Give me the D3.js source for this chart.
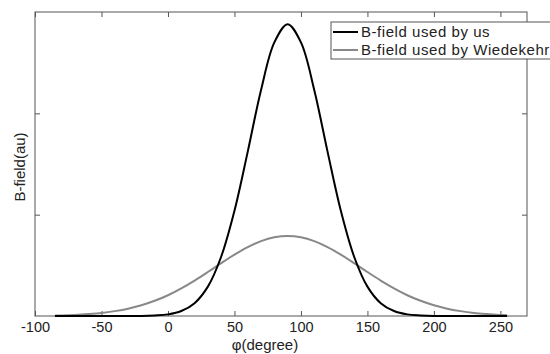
<!DOCTYPE html>
<meta charset="utf-8">
<head>
  <title>B-field</title>
</head>
<style>
body { margin: 0; background: #fff; }
svg { display: block; font-family: Arial, "Liberation Sans", sans-serif; }
.axis text { font-size: 14.5px; fill: #222; }
.axis line { stroke: #555; }
.axis path { display: none; }
</style>
<body>
<svg width="550" height="354"></svg>
<script src="https://cdnjs.cloudflare.com/ajax/libs/d3/7.8.5/d3.min.js"></script>
<script>
// angle samples (degrees)
var phi = [-85, -80, -70, -60, -50, -40, -30, -20, -10, 0, 10, 20, 30, 40, 50, 60, 70, 80, 90,
  100, 110, 120, 130, 140, 150, 160, 170, 180, 190, 200, 210, 220, 230, 240, 250, 255];

// B-field used by us (au)
var bUs = [0, 0, 0, 0, 0, 0, 0, 0, 0.005, 0.016, 0.049, 0.127, 0.29, 0.585, 1.038, 1.622, 2.231, 2.70, 2.88,
  2.70, 2.231, 1.622, 1.038, 0.585, 0.29, 0.127, 0.049, 0.016, 0.005, 0, 0, 0, 0, 0, 0, 0];

// B-field used by Wiedekehr (au)
var bWied = [0.005, 0.006, 0.011, 0.019, 0.030, 0.048, 0.072, 0.106, 0.150, 0.205, 0.273, 0.350, 0.434, 0.521, 0.605, 0.680, 0.739, 0.777, 0.79,
  0.777, 0.739, 0.680, 0.605, 0.521, 0.434, 0.350, 0.273, 0.205, 0.150, 0.106, 0.072, 0.048, 0.030, 0.019, 0.011, 0.008];

var xTicks = [-100, -50, 0, 50, 100, 150, 200, 250];
var yTicks = [1, 2];
var seriesNames = ["B-field used by us", "B-field used by Wiedekehr"];
var seriesColors = ["#000", "#888"];

// plot box (note: "top" is taken by window.top, so use other names)
var pLeft = 35, pRight = 527, pTop = 12, pBottom = 316;

var x = d3.scaleLinear().domain([-100, 270]).range([pLeft, pRight]);
var y = d3.scaleLinear().domain([0, 3]).range([pBottom, pTop]);

var svg = d3.select("svg");
var fmt = function(d) { return String(d); };

// ticks (inward, all four sides)
svg.append("g").attr("class", "axis").attr("transform", "translate(0," + pBottom + ")")
  .call(d3.axisBottom(x).tickValues(xTicks).tickSizeInner(-5).tickSizeOuter(0).tickPadding(6).tickFormat(fmt));
svg.append("g").attr("class", "axis").attr("transform", "translate(0," + pTop + ")")
  .call(d3.axisTop(x).tickValues(xTicks).tickSizeInner(-5).tickSizeOuter(0).tickFormat(""));
svg.append("g").attr("class", "axis").attr("transform", "translate(" + pLeft + ",0)")
  .call(d3.axisLeft(y).tickValues(yTicks).tickSizeInner(-5).tickSizeOuter(0).tickFormat(""));
svg.append("g").attr("class", "axis").attr("transform", "translate(" + pRight + ",0)")
  .call(d3.axisRight(y).tickValues(yTicks).tickSizeInner(-5).tickSizeOuter(0).tickFormat(""));

// frame
svg.append("rect")
  .attr("x", pLeft).attr("y", pTop)
  .attr("width", pRight - pLeft).attr("height", pBottom - pTop)
  .attr("fill", "none").attr("stroke", "#555").attr("stroke-width", 1);

var line = d3.line()
  .x(function(d, i) { return x(phi[i]); })
  .y(function(d) { return y(d); })
  .curve(d3.curveCatmullRom);

svg.append("path").datum(bWied)
  .attr("d", line).attr("fill", "none")
  .attr("stroke", seriesColors[1]).attr("stroke-width", 2);

svg.append("path").datum(bUs)
  .attr("d", line).attr("fill", "none")
  .attr("stroke", seriesColors[0]).attr("stroke-width", 2);

// axis labels
svg.append("text")
  .attr("x", 265).attr("y", 350)
  .attr("text-anchor", "middle").attr("font-size", 15).attr("fill", "#222")
  .text("\u03c6(degree)");

svg.append("text")
  .attr("transform", "translate(25,167) rotate(-90)")
  .attr("text-anchor", "middle").attr("font-size", 15).attr("fill", "#222")
  .text("B-field(au)");

// legend (runs past the right edge, as in the original figure)
var lg = svg.append("g").attr("transform", "translate(331,22)");
lg.append("rect")
  .attr("x", 0).attr("y", 0).attr("width", 240).attr("height", 37)
  .attr("fill", "#fff").attr("stroke", "#555");
seriesNames.forEach(function(name, i) {
  var cy = 10 + i * 18;
  lg.append("line")
    .attr("x1", 2).attr("x2", 27).attr("y1", cy).attr("y2", cy)
    .attr("stroke", seriesColors[i]).attr("stroke-width", 2);
  lg.append("text")
    .attr("x", 30).attr("y", cy + 5)
    .attr("font-size", 15).attr("letter-spacing", 0.55).attr("fill", "#222")
    .text(name);
});
</script>
</body>
</html>
